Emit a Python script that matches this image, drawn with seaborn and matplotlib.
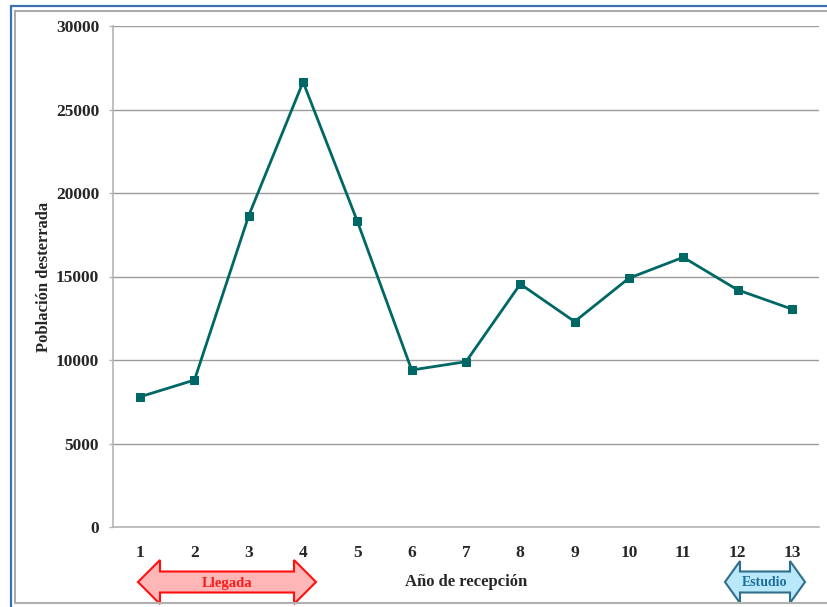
import matplotlib
matplotlib.use("Agg")
import matplotlib.pyplot as plt
from matplotlib.patches import Polygon
from matplotlib.lines import Line2D
from matplotlib.ticker import MultipleLocator, FixedLocator
import seaborn as sns
import pandas as pd

# Data
anios = list(range(1, 14))
poblacion = [7800, 8800, 18650, 26650, 18300, 9400, 9900, 14550, 12300, 14900, 16150, 14200, 13050]

sns.set_style("white")
plt.rcParams["font.family"] = ["Liberation Serif", "DejaVu Serif"]
plt.rcParams["font.weight"] = "bold"

W, H = 828, 607
fig = plt.figure(figsize=(W / 100, H / 100), dpi=100)
ax = fig.add_axes([113 / W, 1 - 527 / H, (819 - 113) / W, (527 - 26) / H])

df = pd.DataFrame({"anio": anios, "poblacion": poblacion})
line_color = "#006864"
sns.lineplot(data=df, x="anio", y="poblacion", ax=ax, color=line_color,
             linewidth=2.0, marker="s", markersize=5.5,
             markeredgecolor=line_color, markerfacecolor=line_color)

ax.set_xlim(0.5, 13.5)
ax.set_ylim(0, 30000)
ax.yaxis.set_major_locator(MultipleLocator(5000))
ax.xaxis.set_major_locator(FixedLocator(anios))
ax.xaxis.set_minor_locator(FixedLocator([a + 0.5 for a in [0] + anios]))

ax.grid(axis="y", color="#9c9c9c", linewidth=1.0)
ax.set_axisbelow(True)
for side in ["top", "right"]:
    ax.spines[side].set_visible(False)
for side in ["left", "bottom"]:
    ax.spines[side].set_color("#b4b4b4")
    ax.spines[side].set_linewidth(1.2)

ax.tick_params(axis="x", which="major", length=0, pad=13, labelsize=12.5)
ax.tick_params(axis="x", which="minor", length=4, width=1, color="#b4b4b4", direction="out")
ax.tick_params(axis="y", length=3, width=1, color="#b4b4b4", pad=7, labelsize=12.5, left=True)
for lbl in ax.get_xticklabels() + ax.get_yticklabels():
    lbl.set_fontweight("bold")

ax.set_xlabel("Año de recepción", fontsize=12, fontweight="bold", labelpad=9)
ax.set_ylabel("Población desterrada", fontsize=12, fontweight="bold", labelpad=3)


def px(x, y):
    return (x / W, 1 - y / H)


def double_arrow(x0, x1, hx, yc, head_half, shaft_half, face, edge):
    pts = [
        (x0, yc), (x0 + hx, yc - head_half), (x0 + hx, yc - shaft_half),
        (x1 - hx, yc - shaft_half), (x1 - hx, yc - head_half), (x1, yc),
        (x1 - hx, yc + head_half), (x1 - hx, yc + shaft_half),
        (x0 + hx, yc + shaft_half), (x0 + hx, yc + head_half),
    ]
    poly = Polygon([px(a, b) for a, b in pts], closed=True, transform=fig.transFigure,
                   facecolor=face, edgecolor=edge, linewidth=1.5, zorder=5)
    fig.add_artist(poly)


double_arrow(138, 316, 22, 582, 22, 10.5, "#ffb6b6", "#ff1010")
fig.text(227 / W, 1 - 583 / H, "Llegada", color="#ff1a1a", fontsize=10.5,
         fontweight="bold", ha="center", va="center", zorder=6)

double_arrow(725, 805, 15, 582, 21, 10.5, "#b9e8fb", "#2f6f8a")
fig.text(765 / W, 1 - 583 / H, "Estudio", color="#1c6f9c", fontsize=10,
         fontweight="bold", ha="center", va="center", zorder=6)

# Chart frame lines
fig.add_artist(Line2D([11 / W, 1], [1 - 6 / H, 1 - 6 / H], transform=fig.transFigure,
                      color="#3f6fb0", linewidth=1.6))
fig.add_artist(Line2D([11 / W, 11 / W], [1 - 6 / H, 0], transform=fig.transFigure,
                      color="#3f6fb0", linewidth=1.6))
fig.add_artist(Line2D([15 / W, 1], [1 - 11 / H, 1 - 11 / H], transform=fig.transFigure,
                      color="#9a9a9a", linewidth=1.2))
fig.add_artist(Line2D([15 / W, 15 / W], [1 - 11 / H, 1 - 603 / H], transform=fig.transFigure,
                      color="#9a9a9a", linewidth=1.2))
fig.add_artist(Line2D([15 / W, 1], [1 - 603 / H, 1 - 603 / H], transform=fig.transFigure,
                      color="#b0b0b0", linewidth=1.5, zorder=7))

fig.savefig("out.png", dpi=100)
